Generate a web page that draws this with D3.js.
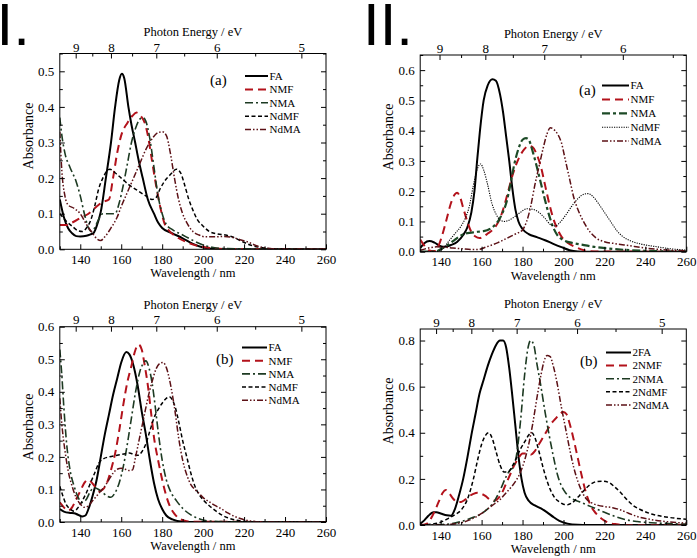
<!DOCTYPE html>
<html><head><meta charset="utf-8">
<script src="https://cdn.jsdelivr.net/npm/d3@7/dist/d3.min.js"></script>
<style>
body{margin:0;background:#fff}
svg{display:block}
</style>
</head><body>
<svg id="c" width="697" height="558"></svg>
<script>
// ---------- DATA ----------
const waveTicks = [140,160,180,200,220,240,260];
const waveMinor = [130,150,170,190,210,230,250];
const energyTicks = [9,8,7,6,5];
const energyTicksIIa = [9,8,7,6];
const energyMinor = [8.5,7.5,6.5,5.5];
const namesI = ["FA","NMF","NMA","NdMF","NdMA"];
const namesII = ["2FA","2NMF","2NMA","2NdMF","2NdMA"];
const yTicksIa = [0,0.1,0.2,0.3,0.4,0.5];
const yMinorIa = [0.05,0.15,0.25,0.35,0.45,0.55];
const yTicksIIa = [0,0.1,0.2,0.3,0.4,0.5,0.6];
const yMinorIIa = [0.05,0.15,0.25,0.35,0.45,0.55,0.65];
const yTicksIb = [0,0.1,0.2,0.3,0.4,0.5,0.6];
const yMinorIb = [0.05,0.15,0.25,0.35,0.45,0.55];
const yTicksIIb = [0,0.2,0.4,0.6,0.8];
const yMinorIIb = [0.1,0.3,0.5,0.7];
// wavelength span that each top (energy) axis is drawn against
const topSpanStd = [130,260];
const topSpanIIa = [130.5,230.5];

// Panel I(a)
const Ia_FA = [[130,.14],[132,.09],[134,.06],[136,.045],[138,.037],[140,.036],[143,.038],[145,.042],[146.5,.046],[148,.065],[150,.105],[152.5,.2],[155,.3],[157,.4],[159,.475],[160.3,.493],[161.5,.48],[163.5,.4],[165,.35],[166.8,.3],[168.5,.25],[170.5,.2],[173,.14],[176,.1],[178,.075],[180,.06],[185,.045],[190,.031],[195,.015],[200,.005],[205,.001],[210,0],[260,0]];
const Ia_NMF = [[130,.068],[133,.068],[136,.075],[140,.088],[144,.1],[148,.12],[151,.133],[154,.14],[156,.2],[158,.27],[160,.32],[163,.355],[165.5,.375],[167.5,.384],[169.5,.375],[171.5,.355],[173,.32],[175,.25],[177,.18],[179,.12],[181,.075],[183,.055],[187,.035],[192,.02],[197,.01],[203,.004],[210,.001],[260,0]];
const Ia_NMA = [[130,.37],[131,.32],[132.5,.27],[135,.23],[138,.19],[140,.15],[142,.1],[144,.06],[145.5,.05],[147,.06],[149,.085],[151,.1],[155,.1],[157,.1],[159,.13],[161,.18],[163,.24],[165,.3],[167,.34],[169,.365],[170.5,.37],[172,.36],[174,.31],[176,.23],[178,.15],[180,.1],[182,.07],[185,.055],[190,.04],[195,.025],[200,.012],[205,.005],[210,.002],[260,0]];
const Ia_NdMF = [[130,.1],[133,.08],[136,.065],[139,.052],[141,.05],[143,.06],[145,.08],[147,.12],[149,.17],[151,.2],[153,.22],[154.5,.225],[157,.215],[160,.2],[164,.18],[168,.165],[172,.15],[175,.14],[177,.145],[179,.17],[181,.19],[184,.21],[187,.225],[189,.215],[191,.18],[193,.14],[195,.11],[197,.085],[200,.065],[203,.05],[207,.043],[211,.04],[215,.033],[219,.022],[223,.012],[228,.005],[235,.001],[260,0]];
const Ia_NdMA = [[130,.33],[131,.22],[132.5,.15],[134,.125],[137,.115],[140,.1],[143,.07],[146,.045],[148,.03],[150,.025],[152,.035],[155,.06],[158,.09],[160,.12],[163,.16],[166,.2],[169,.24],[172,.28],[175,.31],[178,.328],[180,.33],[182,.32],[184,.27],[186,.2],[188,.14],[190,.1],[192,.075],[195,.05],[198,.04],[201,.035],[205,.035],[210,.036],[214,.034],[218,.027],[222,.02],[226,.01],[230,.004],[235,.001],[260,0]];

// Panel II(a)
const IIa_FA = [[130,.012],[132,.028],[134.5,.035],[137,.03],[140,.018],[142,.016],[145,.022],[148,.032],[151,.055],[153,.08],[155,.13],[156.5,.2],[157.8,.3],[159.2,.4],[161,.5],[163,.55],[165.3,.57],[167,.565],[169,.52],[170.5,.46],[172,.38],[173.5,.3],[175,.21],[176.5,.14],[178,.1],[180,.075],[183,.058],[187,.048],[191,.038],[195,.026],[199,.015],[203,.005],[207,.001],[212,0],[260,0]];
const IIa_NMF = [[130,.04],[132,.02],[134,.005],[137,.002],[139,.02],[141,.06],[143,.11],[145,.16],[147,.19],[148,.195],[149.5,.18],[151,.145],[153,.1],[155,.065],[157,.05],[159,.045],[161,.05],[163,.06],[165,.07],[167,.085],[169,.11],[171,.15],[173,.2],[175,.25],[177,.29],[179,.32],[181,.34],[183,.35],[185,.345],[187,.32],[189,.28],[191,.22],[193,.16],[195,.11],[197,.075],[199,.05],[202,.03],[206,.015],[210,.005],[215,.001],[260,0]];
const IIa_NMA = [[130,0],[137,0],[140,.008],[143,.02],[146,.035],[149,.05],[152,.06],[155,.063],[158,.066],[161,.068],[164,.075],[166,.085],[168,.1],[170,.125],[172,.16],[174,.22],[176,.29],[178,.34],[180,.37],[181.7,.375],[183,.37],[185,.33],[187,.28],[189,.225],[191,.17],[193,.12],[195,.08],[197,.055],[200,.038],[205,.028],[210,.022],[215,.016],[220,.012],[230,.006],[240,.003],[250,.001],[260,0]];
const IIa_NdMF = [[130,0],[138,0],[141,.01],[144,.035],[147,.06],[150,.085],[152,.11],[154,.15],[156,.22],[158,.275],[159.5,.29],[161,.27],[163,.22],[165,.16],[167,.125],[169,.105],[171,.1],[173,.103],[176,.115],[179,.13],[182,.142],[185,.14],[188,.13],[191,.11],[194,.088],[196,.085],[198,.095],[201,.12],[204,.15],[207,.175],[210,.19],[212,.192],[214,.185],[217,.16],[220,.13],[223,.1],[226,.07],[229,.05],[233,.035],[238,.025],[245,.017],[252,.01],[260,.005]];
const IIa_NdMA = [[130,.005],[134,.012],[138,.016],[142,.015],[146,.012],[150,.01],[155,.007],[159,.008],[162,.015],[165,.022],[168,.03],[171,.04],[174,.05],[177,.06],[180,.072],[182,.1],[184,.15],[186,.22],[188,.28],[190,.34],[192,.39],[193.6,.41],[195,.405],[197,.39],[199,.36],[201,.3],[203,.24],[205,.18],[207,.14],[209,.11],[211,.085],[213,.065],[216,.045],[220,.033],[225,.027],[232,.02],[240,.012],[250,.006],[260,.003]];

// Panel I(b)
const Ib_FA = [[130,.04],[132,.032],[135,.028],[137,.027],[139,.022],[141,.017],[142.5,.02],[144,.04],[146,.08],[148,.13],[150,.2],[152,.27],[154,.33],[156,.39],[158,.44],[160,.49],[162.5,.522],[164,.515],[166,.48],[168,.42],[170,.34],[172,.27],[174,.19],[176,.12],[178,.07],[180,.04],[182,.02],[185,.008],[190,.001],[195,0],[260,0]];
const Ib_NMF = [[130,.06],[132,.045],[134,.035],[136,.045],[138,.07],[140,.095],[142,.12],[143.5,.13],[145,.125],[147,.11],[149,.095],[151,.1],[153,.12],[155,.16],[157,.21],[159,.28],[161,.36],[163,.43],[165,.48],[167,.53],[168.5,.545],[170,.53],[171.5,.48],[173,.42],[174.5,.34],[176,.26],[178,.19],[180,.13],[182,.08],[184,.045],[186,.025],[188,.012],[191,.004],[195,.001],[260,0]];
const Ib_NMA = [[130,.53],[131,.45],[132,.35],[133.5,.23],[135,.16],[137,.11],[139,.075],[141,.06],[143,.07],[145,.095],[147,.105],[149,.1],[151,.09],[153,.08],[155,.076],[157,.09],[159,.12],[161,.17],[163,.24],[165,.32],[167,.4],[169,.46],[170.5,.485],[172,.495],[173.5,.475],[175,.43],[176.5,.36],[178,.28],[180,.19],[182,.13],[184,.095],[187,.065],[190,.042],[194,.022],[198,.01],[203,.003],[210,.001],[260,0]];
const Ib_NdMF = [[130,.11],[131.5,.08],[133,.055],[135,.04],[137,.033],[139,.045],[141,.065],[143,.09],[145,.12],[147,.15],[149,.18],[151,.193],[154,.2],[158,.205],[162,.21],[164,.212],[166,.208],[168,.205],[170,.215],[172,.24],[174,.28],[176,.32],[178,.345],[180,.365],[182,.38],[183.5,.385],[185,.375],[186.5,.35],[188,.31],[190,.25],[192,.2],[194,.15],[196,.11],[198,.085],[200,.068],[203,.05],[206,.035],[209,.022],[212,.013],[216,.006],[220,.002],[226,0],[260,0]];
const Ib_NdMA = [[130,.38],[131,.3],[132.5,.22],[134,.16],[136,.11],[138,.075],[140,.055],[142,.045],[144,.05],[146,.065],[148,.08],[150,.095],[152,.11],[154,.13],[156,.15],[158,.162],[160,.165],[162,.162],[164,.158],[165.5,.16],[167,.2],[169,.26],[171,.32],[173,.38],[175,.43],[177,.47],[179,.488],[180.5,.49],[182,.475],[183.5,.44],[185,.39],[186.5,.33],[188,.26],[190,.19],[192,.145],[194,.115],[196,.1],[198,.088],[200,.075],[203,.062],[206,.05],[209,.04],[212,.028],[215,.018],[219,.009],[223,.003],[228,.001],[260,0]];

// Panel II(b)
const IIb_FA = [[130,.005],[132,.02],[134,.04],[136.5,.055],[138,.055],[140,.05],[143,.042],[145,.04],[147,.07],[149,.13],[151,.2],[153,.29],[155,.39],[157,.48],[159,.57],[161,.63],[163,.69],[165,.74],[167,.78],[169,.8],[170.5,.8],[172,.77],[173.5,.68],[175,.56],[176.5,.43],[178,.3],[179.5,.2],[181,.14],[183,.105],[186,.085],[189,.072],[192,.055],[195,.035],[198,.018],[202,.006],[207,.001],[212,0],[260,0]];
const IIb_NMF = [[130,0],[133,.005],[136,.04],[139,.1],[141,.14],[142.5,.152],[144,.14],[146,.115],[148,.1],[150,.1],[152,.11],[154,.125],[156,.135],[158,.14],[160,.135],[162,.125],[164,.11],[166,.105],[168,.115],[170,.14],[172,.18],[174,.22],[176,.26],[178,.29],[180,.31],[182,.31],[184,.305],[186,.32],[188,.35],[190,.38],[192,.41],[194,.44],[196,.46],[198,.48],[200,.49],[201.5,.48],[203,.44],[205,.37],[207,.29],[209,.21],[211,.14],[213,.09],[215,.06],[217,.04],[219,.025],[222,.01],[226,.003],[230,0],[260,0]];
const IIb_NMA = [[130,0],[140,.002],[145,.005],[150,.015],[155,.03],[160,.05],[163,.07],[166,.1],[169,.15],[172,.21],[174,.24],[175.5,.25],[177,.3],[179,.45],[181,.65],[182.5,.76],[184,.8],[185.5,.78],[187,.7],[189,.6],[191,.49],[193,.39],[195,.3],[197,.22],[199,.17],[201,.14],[204,.115],[208,.1],[212,.085],[216,.07],[220,.055],[225,.038],[230,.024],[236,.015],[245,.009],[260,.004]];
const IIb_NdMF = [[130,0],[135,.003],[140,.012],[144,.03],[147,.045],[150,.065],[153,.11],[156,.2],[158,.28],[160,.35],[162,.39],[163.5,.4],[165,.38],[167,.32],[169,.26],[171,.23],[173,.23],[175,.255],[177,.29],[179,.33],[181,.36],[183,.39],[184.5,.4],[186,.38],[188,.32],[190,.25],[192,.19],[194,.145],[196,.115],[198,.1],[200,.09],[202,.088],[204,.095],[207,.12],[210,.15],[213,.175],[216,.188],[219,.19],[222,.185],[225,.165],[228,.14],[231,.11],[234,.085],[238,.065],[243,.048],[250,.035],[260,.025]];
const IIb_NdMA = [[130,0],[140,0],[145,.003],[150,.01],[155,.025],[160,.05],[163,.07],[166,.09],[169,.11],[172,.14],[175,.17],[177,.195],[179,.23],[181,.28],[183,.35],[185,.44],[187,.55],[189,.65],[190.5,.71],[192,.735],[193.5,.73],[195,.69],[197,.61],[199,.51],[201,.42],[203,.33],[205,.25],[207,.19],[209,.145],[211,.115],[214,.095],[217,.085],[220,.08],[224,.075],[228,.065],[232,.05],[236,.037],[242,.025],[250,.015],[260,.008]];

// ---------- STYLES ----------
const RED = "#b3121b", GREEN = "#1d3a22", MAROON = "#5c1116";
const stylesA = [
  {color:"#000", w:2, dash:null},
  {color:RED, w:2, dash:"8,5"},
  {color:GREEN, w:1.6, dash:"8,3,2,3"},
  {color:"#000", w:1.5, dash:"4,2.5"},
  {color:MAROON, w:1.5, dash:"6,2,1.5,2,1.5,2"}
];
const stylesIIa = [
  {color:"#000", w:2, dash:null},
  {color:RED, w:2, dash:"8,5"},
  {color:"#1c4a26", w:2.2, dash:"8,3,3,3"},
  {color:"#000", w:1.1, dash:"1.2,1.2"},
  {color:MAROON, w:1.5, dash:"6,2,1.5,2,1.5,2"}
];

const svg = d3.select("#c");
const FONT = "'Liberation Serif','Times New Roman',serif";

function drawPanel(p) {
  const g = svg.append("g");
  const x = d3.scaleLinear().domain([130,260]).range([p.left,p.right]);
  const y = d3.scaleLinear().domain([0,p.ymax]).range([p.bottom,p.top]);
  // top axis: energy (eV) ticks placed through wavelength = 1239.84 / E
  const xTop = d3.scaleLinear().domain(p.topSpan).range([p.left,p.right]);
  const clipId = "clip" + p.id;
  svg.append("clipPath").attr("id", clipId).append("rect")
    .attr("x", p.left).attr("y", p.top).attr("width", p.right-p.left).attr("height", p.bottom-p.top);

  const line = d3.line().x(d=>x(d[0])).y(d=>y(d[1])).curve(d3.curveMonotoneX);
  const lg = g.append("g").attr("clip-path", `url(#${clipId})`);
  p.series.forEach((s,i)=>{
    const st = p.styles[i];
    lg.append("path").datum(s).attr("d", line)
      .attr("fill","none").attr("stroke", st.color).attr("stroke-width", st.w)
      .attr("stroke-dasharray", st.dash).attr("stroke-linejoin","round");
  });

  g.append("rect").attr("x",p.left).attr("y",p.top).attr("width",p.right-p.left).attr("height",p.bottom-p.top)
    .attr("fill","none").attr("stroke","#000").attr("stroke-width",1);

  const style = sel => {
    sel.select(".domain").remove();
    sel.selectAll("line").attr("stroke","#000").attr("stroke-width",1);
    sel.selectAll("text").attr("font-family",FONT).attr("font-size",13).attr("fill","#000");
  };
  g.append("g").attr("transform",`translate(0,${p.bottom})`)
    .call(d3.axisBottom(x).tickValues(waveTicks).tickSize(-5).tickFormat(d3.format("d")))
    .call(style).call(s=>s.selectAll("text").attr("y",p.xlab).attr("dy",null));
  g.append("g").attr("transform",`translate(0,${p.bottom})`)
    .call(d3.axisBottom(x).tickValues(waveMinor).tickSize(-3).tickFormat(""))
    .call(style);
  const eTicks = p.eTicks;
  g.append("g").attr("transform",`translate(0,${p.top})`)
    .call(d3.axisTop(xTop).tickValues(eTicks.map(e=>1239.84/e)).tickSize(-5).tickFormat((d,i)=>eTicks[i]))
    .call(style).call(s=>s.selectAll("text").attr("y",-p.tlab).attr("dy",null));
  g.append("g").attr("transform",`translate(0,${p.top})`)
    .call(d3.axisTop(xTop).tickValues(energyMinor.map(e=>1239.84/e).filter(v=>v<=p.topSpan[1])).tickSize(-3).tickFormat(""))
    .call(style);
  g.append("g").attr("transform",`translate(${p.left},0)`)
    .call(d3.axisLeft(y).tickValues(p.yTicks).tickSize(-5).tickFormat(d3.format(".1f")))
    .call(style).call(s=>s.selectAll("text").attr("x",-5.5));
  g.append("g").attr("transform",`translate(${p.left},0)`)
    .call(d3.axisLeft(y).tickValues(p.yMinor).tickSize(-3).tickFormat(""))
    .call(style);
  g.append("g").attr("transform",`translate(${p.right},0)`)
    .call(d3.axisRight(y).tickValues(p.yTicks).tickSize(-5).tickFormat(""))
    .call(style);
  g.append("g").attr("transform",`translate(${p.right},0)`)
    .call(d3.axisRight(y).tickValues(p.yMinor).tickSize(-3).tickFormat(""))
    .call(style);

  g.append("text").attr("x",(p.left+p.right)/2).attr("y",p.top-p.ttitle)
    .attr("text-anchor","middle").attr("font-family",FONT).attr("font-size",12.5).text("Photon Energy / eV");
  g.append("text").attr("x",(p.left+p.right)/2).attr("y",p.bottom+p.btitle)
    .attr("text-anchor","middle").attr("font-family",FONT).attr("font-size",12.5).text("Wavelength / nm");
  g.append("text").attr("transform",`translate(${p.left-27},${p.ycenter}) rotate(-90)`)
    .attr("text-anchor","middle").attr("font-family",FONT).attr("font-size",14).text("Absorbance");

  const L = p.legend;
  g.append("text").attr("x",L.tagX).attr("y",L.tagY).attr("font-family",FONT).attr("font-size",15).text(p.tag);
  p.names.forEach((n,i)=>{
    const st = p.styles[i];
    const yy = L.y0 + i*L.dy;
    g.append("line").attr("x1",L.x1).attr("x2",L.x2).attr("y1",yy).attr("y2",yy)
      .attr("stroke",st.color).attr("stroke-width",st.w).attr("stroke-dasharray",st.dash);
    g.append("text").attr("x",L.x2+1.5).attr("y",yy).attr("dy","0.35em")
      .attr("font-family",FONT).attr("font-size",11).text(n);
  });
}

drawPanel({id:"Ia", left:59.8, right:326, top:53.5, bottom:249.3, ymax:0.55,
  yTicks:yTicksIa, yMinor:yMinorIa, eTicks:energyTicks, topSpan:topSpanStd,
  series:[Ia_FA,Ia_NMF,Ia_NMA,Ia_NdMF,Ia_NdMA], styles:stylesA, names:namesI, tag:"(a)",
  xlab:14.5, tlab:2, ttitle:17.5, btitle:28, ycenter:136,
  legend:{tagX:210, tagY:85, x1:245, x2:268, y0:76, dy:13.4}});
drawPanel({id:"IIa", left:420.2, right:686.3, top:55, bottom:251.7, ymax:0.65,
  yTicks:yTicksIIa, yMinor:yMinorIIa, eTicks:energyTicksIIa, topSpan:topSpanIIa,
  series:[IIa_FA,IIa_NMF,IIa_NMA,IIa_NdMF,IIa_NdMA], styles:stylesIIa, names:namesI, tag:"(a)",
  xlab:14.5, tlab:2, ttitle:17.5, btitle:28, ycenter:137,
  legend:{tagX:579, tagY:95, x1:602, x2:629, y0:85.5, dy:13.9}});
drawPanel({id:"Ib", left:59.8, right:326, top:326.7, bottom:522, ymax:0.6,
  yTicks:yTicksIb, yMinor:yMinorIb, eTicks:energyTicks, topSpan:topSpanStd,
  series:[Ib_FA,Ib_NMF,Ib_NMA,Ib_NdMF,Ib_NdMA], styles:stylesA, names:namesI, tag:"(b)",
  xlab:14.5, tlab:2.5, ttitle:17.5, btitle:28, ycenter:427,
  legend:{tagX:216, tagY:364, x1:242, x2:267, y0:347.5, dy:13.2}});
drawPanel({id:"IIb", left:420.2, right:686.3, top:329, bottom:525, ymax:0.85,
  yTicks:yTicksIIb, yMinor:yMinorIIb, eTicks:energyTicks, topSpan:topSpanStd,
  series:[IIb_FA,IIb_NMF,IIb_NMA,IIb_NdMF,IIb_NdMA], styles:stylesA, names:namesII, tag:"(b)",
  xlab:14.5, tlab:2, ttitle:21, btitle:28, ycenter:411,
  legend:{tagX:580, tagY:366, x1:606, x2:631, y0:352.5, dy:13.1}});

svg.append("text").attr("x",-3.5).attr("y",45).attr("font-family","'Liberation Sans',Arial,sans-serif")
  .attr("font-size",60).text("I.");
svg.append("text").attr("x",363).attr("y",45).attr("font-family","'Liberation Sans',Arial,sans-serif")
  .attr("font-size",60).text("II.");
</script>
</body></html>
